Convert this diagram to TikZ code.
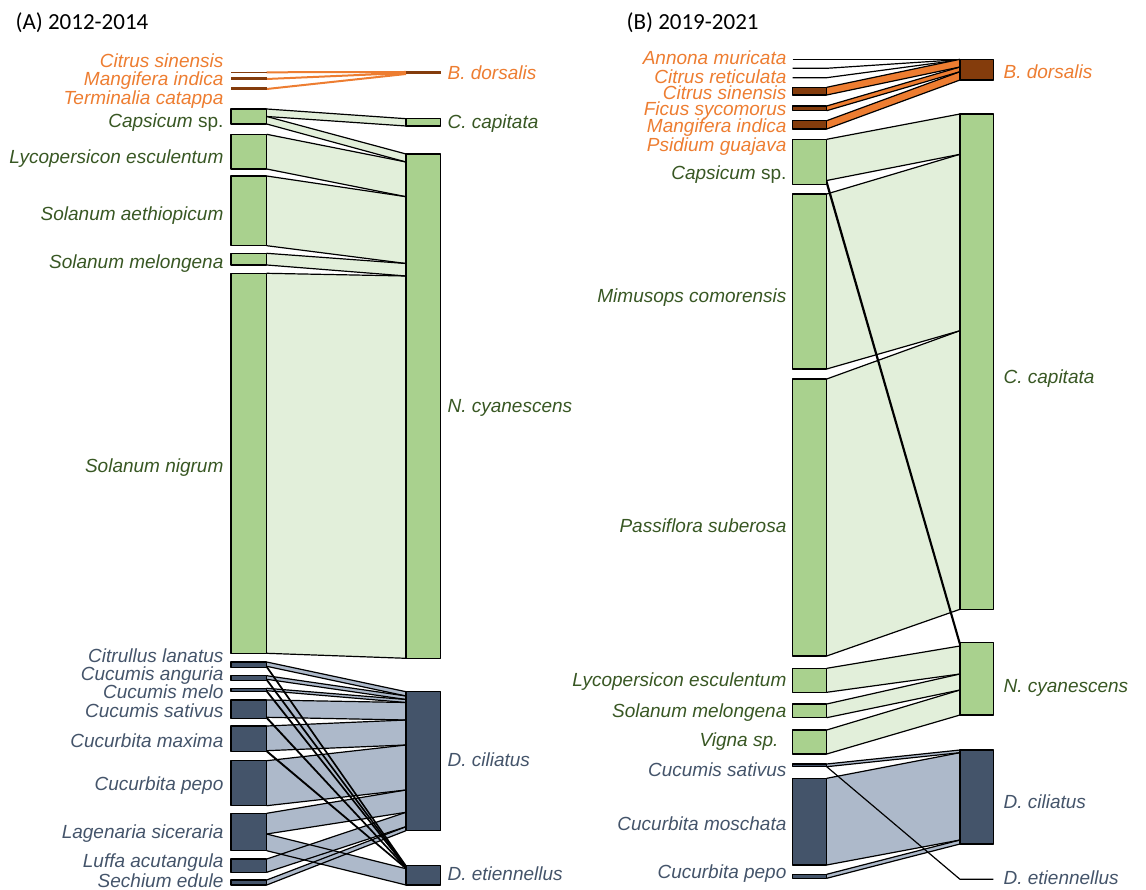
\documentclass[tikz,border=0pt]{standalone}
\usepackage{fontspec}
\setmainfont{Liberation Sans}
\newfontfamily\titlefont{Carlito}
\definecolor{orangetxt}{RGB}{237,125,49}
\definecolor{brownbar}{RGB}{132,60,12}
\definecolor{greentxt}{RGB}{56,87,35}
\definecolor{greenbar}{RGB}{169,209,142}
\definecolor{greenrib}{RGB}{226,239,218}
\definecolor{bluetxt}{RGB}{68,84,106}
\definecolor{bluerib}{RGB}{173,185,202}

\begin{document}
\begin{tikzpicture}[x=1pt, y=-1pt, line width=1.2pt, line join=round,
  lab/.style={font=\fontsize{19}{22}\selectfont\itshape, inner sep=0pt,
    text height=13.6pt, text depth=0pt},
  host/.style={lab, anchor=east},
  pest/.style={lab, anchor=west},
  titre/.style={anchor=base west, inner sep=0pt,
    font=\titlefont\fontsize{23}{26}\selectfont}]

\useasboundingbox (0,0) rectangle (1146,890);

% Titres
\node[titre] (titleA) at (15,30) {(A) 2012-2014};
\node[titre] (titleB) at (626,30) {(B) 2019-2021};

% Donnees des liens
\def\greenA{109/116.5/118.7/126, 116.5/124/154/162, 134.3/169/162/196.7,
  176/245.7/196.7/263.5, 253.3/265/263.5/276, 273.3/653.3/276/658.3}
\def\blueA{662/666.3/691.7/696, 675.7/679.3/696/699.5,
  688.3/690.7/699.5/702.5, 700/717.3/702.5/720, 726/750.7/720/745,
  760.7/805.7/745/790, 813.3/834/790/812.3, 859/872.3/812.3/826.7,
  880/885/826.7/830.7, 666.3/667.3/865.7/866.3, 679.3/680.3/866.3/866.9,
  690.7/691.7/866.9/867.5, 717.3/718.3/867.5/868.1,
  750.7/751.7/868.1/868.7, 834/850.7/868.7/885}
\def\orangeB{87.3/95/59.3/67, 106/110.7/67/71.7, 120.7/129/71.7/80}
\def\greenB{139.3/180.5/114/154.3, 194/369/154.3/330.7,
  379/656/330.7/609.3, 180.5/184.3/642.7/646, 668.3/692.3/646/674,
  704/717.7/674/690, 730/754/690/715}
\def\blueB{764/766.7/750/752.7, 778.3/865/752.7/840, 874.3/878.3/840/844}

% (A) Liens B. dorsalis
\draw[orangetxt, line width=2pt] (266.7,72.3) -- (406,72)
  (266.7,79) -- (406,73) (266.7,89) -- (406,74);
\draw[brownbar, line width=1.5pt] (231,72.3) -- (266.7,72.3);
\draw[brownbar, line width=3pt] (231,79) -- (266.7,79)
  (231,89) -- (266.7,89) (406,73) -- (440.7,73);

% (A) Liens verts et bleus
\foreach \a/\b/\c/\d in \greenA
  \fill[greenrib] (266.7,\a) -- (406,\c) -- (406,\d) -- (266.7,\b) -- cycle;
\foreach \a/\b/\c/\d in \blueA
  \fill[bluerib] (266.7,\a) -- (406,\c) -- (406,\d) -- (266.7,\b) -- cycle;
\foreach \a/\b/\c/\d in \greenA
  \draw (266.7,\a) -- (406,\c) (266.7,\b) -- (406,\d);
\foreach \a/\b/\c/\d in \blueA
  \draw (266.7,\a) -- (406,\c) (266.7,\b) -- (406,\d);

% (A) Barres
\foreach \a/\b in {109/124, 134.3/169, 176/245.7, 253.3/265, 273.3/653.3}
  \filldraw[fill=greenbar] (231,\a) rectangle (266.7,\b);
\foreach \a/\b in {118.7/126, 154/658.3}
  \filldraw[fill=greenbar] (406,\a) rectangle (440.7,\b);
\foreach \a/\b in {662/667.3, 675.7/680.3, 688.3/691.7, 700/718.3,
  726/751.7, 760.7/805.7, 813.3/850.7, 859/872.3, 880/885}
  \filldraw[fill=bluetxt] (231,\a) rectangle (266.7,\b);
\foreach \a/\b in {691.7/830.7, 865.7/885}
  \filldraw[fill=bluetxt] (406,\a) rectangle (440.7,\b);

% (A) Plantes
\begin{scope}[orangetxt]
\node[host] (citsinA) at (224,60.7) {Citrus sinensis};
\node[host] (manindA) at (224,79) {Mangifera indica};
\node[host] (tercatA) at (224,98) {Terminalia catappa};
\end{scope}
\begin{scope}[greentxt]
\node[host] (capsA) at (224,120.5) {Capsicum \upshape sp.};
\node[host] (lycescA) at (224,157) {Lycopersicon esculentum};
\node[host] (solaetA) at (224,214) {Solanum aethiopicum};
\node[host] (solmelA) at (224,262) {Solanum melongena};
\node[host] (solnigA) at (224,466) {Solanum nigrum};
\end{scope}
\begin{scope}[bluetxt]
\node[host] (citlanA) at (224,656) {Citrullus lanatus};
\node[host] (cucangA) at (224,673.5) {Cucumis anguria};
\node[host] (cucmelA) at (224,691.5) {Cucumis melo};
\node[host] (cucsatA) at (224,711) {Cucumis sativus};
\node[host] (cucmaxA) at (224,740.5) {Cucurbita maxima};
\node[host] (cucpepA) at (224,784) {Cucurbita pepo};
\node[host] (lagsicA) at (224,831.5) {Lagenaria siceraria};
\node[host] (lufacuA) at (224,861) {Luffa acutangula};
\node[host] (seceduA) at (224,881) {Sechium edule};
\end{scope}

% (A) Mouches
\node[pest, orangetxt] (bdorA) at (447,73) {B. dorsalis};
\node[pest, greentxt] (ccapA) at (447,121.5) {C. capitata};
\node[pest, greentxt] (ncyaA) at (447,406) {N. cyanescens};
\node[pest, bluetxt] (dcilA) at (447,760) {D. ciliatus};
\node[pest, bluetxt] (detiA) at (447,873.5) {D. etiennellus};

% (B) Liens sans effectif vers B. dorsalis
\draw (792.7,59.3) -- (826.7,59.3) -- (960,59.3);
\draw (792.7,68.3) -- (826.7,68.3) -- (960,59.6);
\draw (792.7,77.7) -- (826.7,77.7) -- (960,59.9);

% (B) Liens
\foreach \a/\b/\c/\d in \orangeB
  \fill[orangetxt] (826.7,\a) -- (960,\c) -- (960,\d) -- (826.7,\b) -- cycle;
\foreach \a/\b/\c/\d in \greenB
  \fill[greenrib] (826.7,\a) -- (960,\c) -- (960,\d) -- (826.7,\b) -- cycle;
\foreach \a/\b/\c/\d in \blueB
  \fill[bluerib] (826.7,\a) -- (960,\c) -- (960,\d) -- (826.7,\b) -- cycle;
\foreach \a/\b/\c/\d in \orangeB
  \draw (826.7,\a) -- (960,\c) (826.7,\b) -- (960,\d);
\foreach \a/\b/\c/\d in \greenB
  \draw (826.7,\a) -- (960,\c) (826.7,\b) -- (960,\d);
\foreach \a/\b/\c/\d in \blueB
  \draw (826.7,\a) -- (960,\c) (826.7,\b) -- (960,\d);

% (B) Lien sans effectif vers D. etiennellus
\draw (826.7,766.7) -- (960,879.3) -- (993.3,879.3);

% (B) Barres
\foreach \a/\b in {87.3/95, 106/110.7, 120.7/129}
  \filldraw[fill=brownbar] (792.7,\a) rectangle (826.7,\b);
\filldraw[fill=brownbar] (960,59.3) rectangle (993.3,80);
\foreach \a/\b in {139.3/184.3, 194/369, 379/656, 668.3/692.3,
  704/717.7, 730/754}
  \filldraw[fill=greenbar] (792.7,\a) rectangle (826.7,\b);
\foreach \a/\b in {114/609.3, 642.7/715}
  \filldraw[fill=greenbar] (960,\a) rectangle (993.3,\b);
\foreach \a/\b in {764/766.7, 778.3/865, 874.3/878.3}
  \filldraw[fill=bluetxt] (792.7,\a) rectangle (826.7,\b);
\filldraw[fill=bluetxt] (960,750) rectangle (993.3,844);

% (B) Plantes
\begin{scope}[orangetxt]
\node[host] (annmurB) at (787,58) {Annona muricata};
\node[host] (citretB) at (787,76.7) {Citrus reticulata};
\node[host] (citsinB) at (787,93) {Citrus sinensis};
\node[host] (ficsycB) at (787,108.8) {Ficus sycomorus};
\node[host] (manindB) at (787,125.7) {Mangifera indica};
\node[host] (psiguaB) at (787,144.3) {Psidium guajava};
\end{scope}
\begin{scope}[greentxt]
\node[host] (capsB) at (787,172.5) {Capsicum \upshape sp.};
\node[host] (mimcomB) at (787,296) {Mimusops comorensis};
\node[host] (passubB) at (787,526) {Passiflora suberosa};
\node[host] (lycescB) at (787,680) {Lycopersicon esculentum};
\node[host] (solmelB) at (787,711) {Solanum melongena};
\node[host] (vignaB) at (779,740) {Vigna sp.};
\end{scope}
\begin{scope}[bluetxt]
\node[host] (cucsatB) at (787,770) {Cucumis sativus};
\node[host] (cucmosB) at (787,824) {Cucurbita moschata};
\node[host] (cucpepB) at (787,872) {Cucurbita pepo};
\end{scope}

% (B) Mouches
\node[pest, orangetxt] (bdorB) at (1003,72) {B. dorsalis};
\node[pest, greentxt] (ccapB) at (1003,377) {C. capitata};
\node[pest, greentxt] (ncyaB) at (1003,686) {N. cyanescens};
\node[pest, bluetxt] (dcilB) at (1003,802) {D. ciliatus};
\node[pest, bluetxt] (detiB) at (1003,877.5) {D. etiennellus};

\end{tikzpicture}
\end{document}
